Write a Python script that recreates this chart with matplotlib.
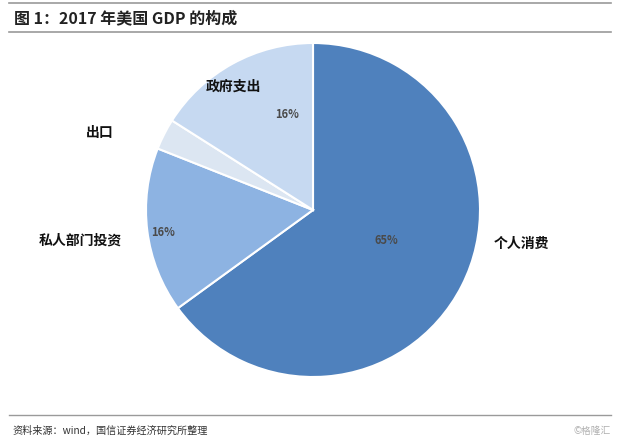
import matplotlib
matplotlib.use("Agg")
from matplotlib import pyplot as plt

plt.rcParams['font.family'] = ['Noto Sans CJK SC', 'DejaVu Sans']

# 2017 年美国 GDP 构成 (%)
parts = ['个人消费', '私人部门投资', '出口', '政府支出']
shares = [65, 16, 3, 16]
pct_text = ['65%', '16%', '', '16%']
colors = ['#4f81bd', '#8db3e2', '#dce6f2', '#c6d9f1']

fig = plt.figure(figsize=(6.2, 4.42), dpi=100)

# 标题和上下分隔线
fig.add_artist(plt.Line2D([0.015, 0.985], [1 - 3 / 442, 1 - 3 / 442], color='#9a9a9a', lw=1.2))
fig.text(0.022, 1 - 18 / 442, '图 1：2017 年美国 GDP 的构成', fontsize=11.5,
         fontweight='bold', va='center', color='#222222')
fig.add_artist(plt.Line2D([0.015, 0.985], [1 - 32 / 442, 1 - 32 / 442], color='#9a9a9a', lw=1.2))
fig.add_artist(plt.Line2D([0.015, 0.985], [1 - 415 / 442, 1 - 415 / 442], color='#9a9a9a', lw=1.0))
fig.text(0.02, 1 - 431 / 442, '资料来源：wind，国信证券经济研究所整理', fontsize=7.3,
         va='center', color='#333333')
fig.text(0.985, 1 - 431 / 442, '©格隆汇', fontsize=7, va='center', ha='right', color='#b0b0b0')

# 饼图
r_px = 167
cx, cy = 313, 210
ax = fig.add_axes([(cx - r_px) / 620, 1 - (cy + r_px) / 442, 2 * r_px / 620, 2 * r_px / 442])
ax.pie(shares, colors=colors, startangle=90, counterclock=False,
       wedgeprops=dict(edgecolor='white', linewidth=1.5), radius=1.0)
ax.set_xlim(-1, 1)
ax.set_ylim(-1, 1)
ax.set_aspect('auto')
ax.axis('off')

# 标签位置（像素换算成饼图坐标）
name_px = [(521, 244), (80, 241), (100, 133), (233, 87)]
pct_px = [(386, 240), (163, 233), None, (287, 114)]


def to_data(p):
    return (p[0] - cx) / r_px, (cy - p[1]) / r_px


for name, pos in zip(parts, name_px):
    x, y = to_data(pos)
    ax.text(x, y, name, fontsize=10, fontweight='bold', ha='center', va='center',
            color='#111111', clip_on=False)

for txt, pos in zip(pct_text, pct_px):
    if pos is None:
        continue
    x, y = to_data(pos)
    ax.text(x, y, txt, fontsize=8, fontweight='semibold', ha='center', va='center',
            color='#4a4a4a', clip_on=False)

fig.savefig('out.png', dpi=100)
